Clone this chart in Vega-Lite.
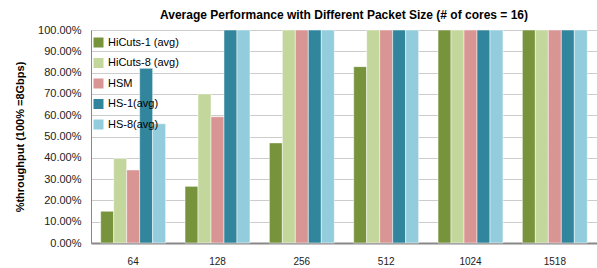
{
  "$schema": "https://vega.github.io/schema/vega-lite/v6.json",
  "width": 506,
  "height": 213,
  "autosize": "none",
  "padding": {"left": 91, "top": 30, "right": 0, "bottom": 25},
  "background": "white",
  "title": {
    "text": "Average Performance with Different Packet Size (# of cores = 16)",
    "font": "Liberation Sans",
    "fontSize": 12,
    "fontWeight": "bold",
    "color": "#000",
    "anchor": "middle",
    "offset": 5,
    "dy": 3
  },
  "config": {"view": {"stroke": null}},
  "data": {
    "values": [
      {"size": "64", "series": "HiCuts-1 (avg)", "value": 0.149},
      {"size": "64", "series": "HiCuts-8 (avg)", "value": 0.397},
      {"size": "64", "series": "HSM", "value": 0.343},
      {"size": "64", "series": "HS-1(avg)", "value": 0.82},
      {"size": "64", "series": "HS-8(avg)", "value": 0.56},
      {"size": "128", "series": "HiCuts-1 (avg)", "value": 0.266},
      {"size": "128", "series": "HiCuts-8 (avg)", "value": 0.70},
      {"size": "128", "series": "HSM", "value": 0.593},
      {"size": "128", "series": "HS-1(avg)", "value": 1.0},
      {"size": "128", "series": "HS-8(avg)", "value": 1.0},
      {"size": "256", "series": "HiCuts-1 (avg)", "value": 0.47},
      {"size": "256", "series": "HiCuts-8 (avg)", "value": 1.0},
      {"size": "256", "series": "HSM", "value": 1.0},
      {"size": "256", "series": "HS-1(avg)", "value": 1.0},
      {"size": "256", "series": "HS-8(avg)", "value": 1.0},
      {"size": "512", "series": "HiCuts-1 (avg)", "value": 0.828},
      {"size": "512", "series": "HiCuts-8 (avg)", "value": 1.0},
      {"size": "512", "series": "HSM", "value": 1.0},
      {"size": "512", "series": "HS-1(avg)", "value": 1.0},
      {"size": "512", "series": "HS-8(avg)", "value": 1.0},
      {"size": "1024", "series": "HiCuts-1 (avg)", "value": 1.0},
      {"size": "1024", "series": "HiCuts-8 (avg)", "value": 1.0},
      {"size": "1024", "series": "HSM", "value": 1.0},
      {"size": "1024", "series": "HS-1(avg)", "value": 1.0},
      {"size": "1024", "series": "HS-8(avg)", "value": 1.0},
      {"size": "1518", "series": "HiCuts-1 (avg)", "value": 1.0},
      {"size": "1518", "series": "HiCuts-8 (avg)", "value": 1.0},
      {"size": "1518", "series": "HSM", "value": 1.0},
      {"size": "1518", "series": "HS-1(avg)", "value": 1.0},
      {"size": "1518", "series": "HS-8(avg)", "value": 1.0}
    ]
  },
  "mark": {"type": "bar", "stroke": "#ffffff", "strokeWidth": 0.5},
  "encoding": {
    "x": {
      "field": "size",
      "type": "nominal",
      "sort": null,
      "scale": {"paddingInner": 0.23, "paddingOuter": 0.115},
      "axis": {
        "title": null,
        "labelAngle": 0,
        "labelFont": "Liberation Sans",
        "labelFontSize": 10,
        "labelColor": "#222",
        "labelPadding": 13,
        "ticks": false,
        "domainColor": "#888",
        "domainWidth": 2
      }
    },
    "xOffset": {
      "field": "series",
      "type": "nominal",
      "sort": ["HiCuts-1 (avg)", "HiCuts-8 (avg)", "HSM", "HS-1(avg)", "HS-8(avg)"],
      "scale": {"paddingInner": 0, "paddingOuter": 0}
    },
    "y": {
      "field": "value",
      "type": "quantitative",
      "scale": {"domain": [0, 1], "nice": false},
      "axis": {
        "title": "%throughput (100% =8Gbps)",
        "titleFont": "Liberation Sans",
        "titleFontSize": 11,
        "titleFontWeight": "bold",
        "titleColor": "#000",
        "titlePadding": 12,
        "format": ".2%",
        "values": [0, 0.1, 0.2, 0.3, 0.4, 0.5, 0.6, 0.7, 0.8, 0.9, 1.0],
        "labelFont": "Liberation Sans",
        "labelFontSize": 11,
        "labelColor": "#222",
        "labelPadding": 10,
        "ticks": false,
        "domainColor": "#888",
        "domainWidth": 1,
        "grid": true,
        "gridColor": "#999",
        "gridDash": [1, 1],
        "gridWidth": 1
      }
    },
    "color": {
      "field": "series",
      "type": "nominal",
      "sort": ["HiCuts-1 (avg)", "HiCuts-8 (avg)", "HSM", "HS-1(avg)", "HS-8(avg)"],
      "scale": {
        "domain": ["HiCuts-1 (avg)", "HiCuts-8 (avg)", "HSM", "HS-1(avg)", "HS-8(avg)"],
        "range": ["#77933C", "#C3D69B", "#D99594", "#31859C", "#93CDDD"]
      },
      "legend": {
        "title": null,
        "orient": "none",
        "legendX": 2,
        "legendY": 7,
        "symbolType": "square",
        "symbolSize": 100,
        "symbolStrokeWidth": 0,
        "labelFont": "Liberation Sans",
        "labelFontSize": 11,
        "labelColor": "#000",
        "labelOffset": 4,
        "rowPadding": 8.5
      }
    }
  }
}
